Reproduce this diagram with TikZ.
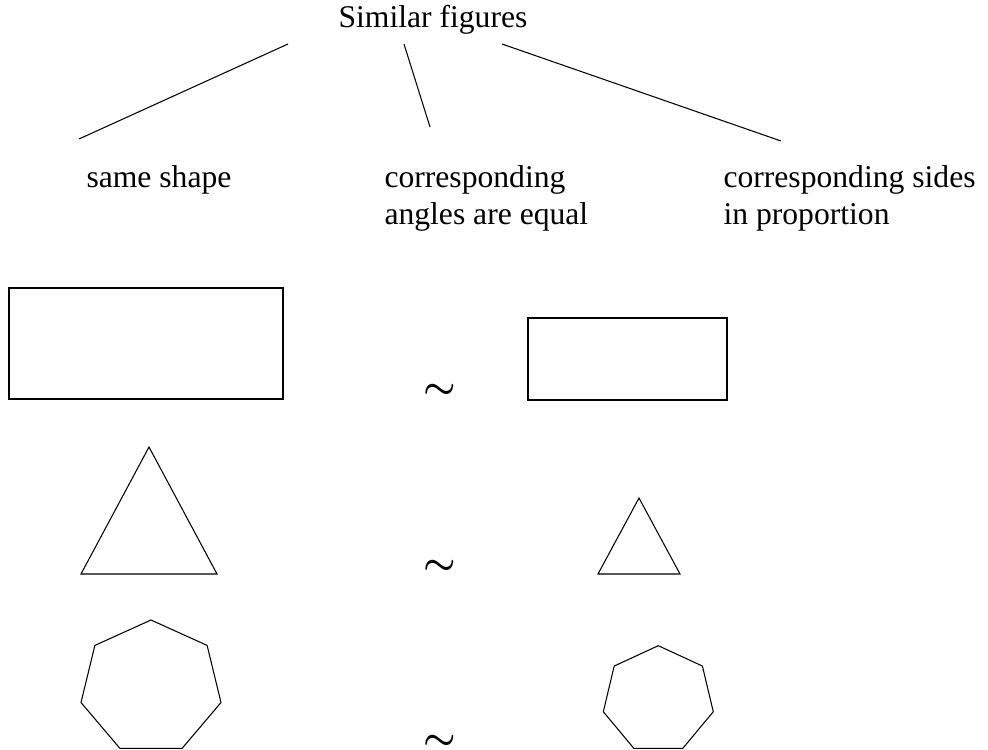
\documentclass[tikz,border=0pt]{standalone}
\usepackage{fontspec}
\setmainfont{Liberation Serif}
\usepackage{tikz}
\usetikzlibrary{positioning, calc}

\tikzset{
  label text/.style={font=\fontsize{18}{21.5}\selectfont, inner sep=0pt, align=left},
  similar/.style={font=\huge\boldmath, inner sep=0pt}
}

\begin{document}
\begin{tikzpicture}[x=0.02cm, y=-0.02cm, line width=0.6pt]
  \useasboundingbox (0,0) rectangle (988,750);

  % Heading and the three properties
  \node[label text, anchor=base west] (title) at (338,28) {Similar figures};
  \node[label text, anchor=base west] (shape) at (86,188) {same shape};
  \node[label text, anchor=base west] (angles) at (384,225) {corresponding\\angles are equal};
  \node[label text, anchor=base west] (sides) at (723,225) {corresponding sides\\in proportion};

  % Connector ends
  \coordinate (T1) at (288,44);
  \coordinate (T2) at (404,44);
  \coordinate (T3) at (502,44);
  \coordinate (B1) at (79,139);
  \coordinate (B2) at (430,127);
  \coordinate (B3) at (781,141);

  % Connectors
  \draw (T1) -- (B1);
  \draw (T2) -- (B2);
  \draw (T3) -- (B3);

  % Rectangles
  \draw (9,288) rectangle (283,399);
  \draw (528,318) rectangle (727,400);
  \node[similar] (sim1) at (440,391) {$\sim$};

  % Triangles
  \coordinate (A1) at (149,447);
  \coordinate (B1) at (81,574);
  \coordinate (C1) at (217,574);
  \coordinate (A2) at (639,498);
  \coordinate (B2) at (598,574);
  \coordinate (C2) at (680,574);
  \draw (A1) -- (B1) -- (C1) -- cycle;
  \draw (A2) -- (B2) -- (C2) -- cycle;
  \node[similar] (sim2) at (440,567) {$\sim$};

  % Heptagons
  \draw[shift={(151,687.5)}] (270:71.8 and 67.5)
    \foreach \k in {1,...,6} { -- (270+\k*360/7:71.8 and 67.5) } -- cycle;
  \draw[shift={(658.3,699.7)}] (270:56.4 and 54)
    \foreach \k in {1,...,6} { -- (270+\k*360/7:56.4 and 54) } -- cycle;
  \node[similar] (sim3) at (440,742) {$\sim$};
\end{tikzpicture}
\end{document}
